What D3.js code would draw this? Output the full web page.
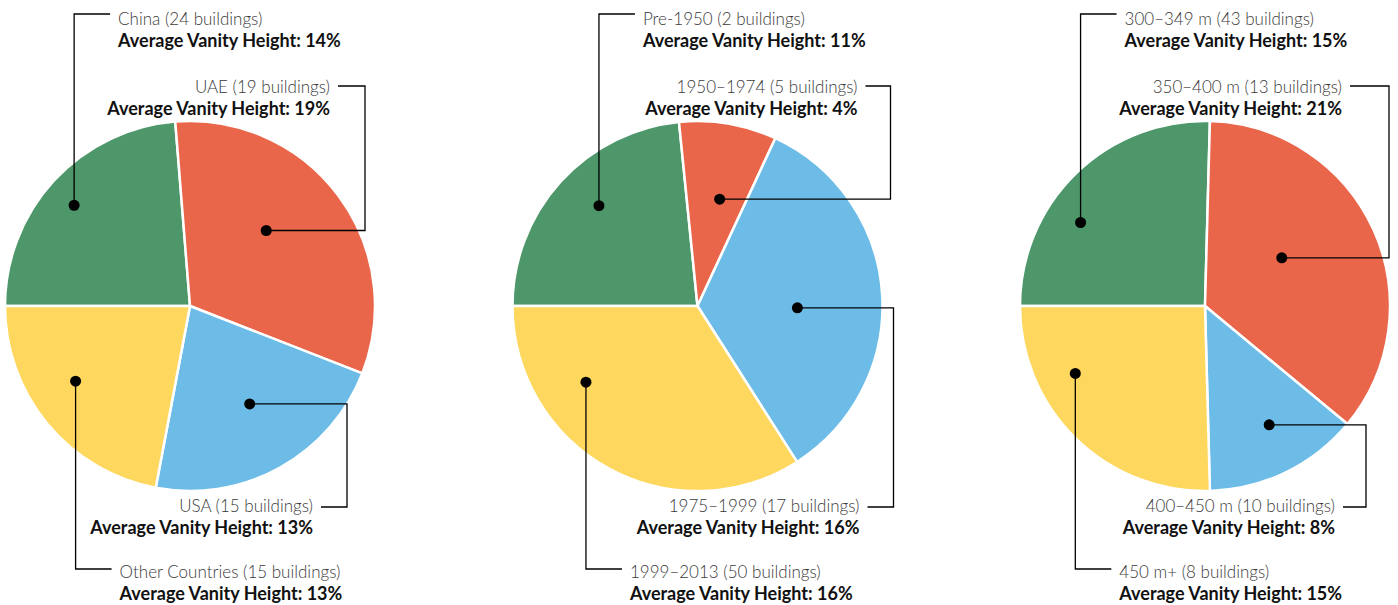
<!DOCTYPE html>
<html>
<head>
<meta charset="utf-8">
<script src="https://cdn.jsdelivr.net/npm/d3@7"></script>
<style>
  body { margin: 0; background: #fff; }
  svg { display: block; font-family: Lato, "Open Sans", sans-serif; }
</style>
</head>
<body>
<div id="chart"></div>
<script>
// data
const countryNames = ['China', 'UAE', 'USA', 'Other Countries'];
const countryBuildings = [24, 19, 15, 15];
const countryVanity = [14, 19, 13, 13];

const eraNames = ['Pre-1950', '1950–1974', '1975–1999', '1999–2013'];
const eraBuildings = [2, 5, 17, 50];
const eraVanity = [11, 4, 16, 16];

const heightNames = ['300–349 m', '350–400 m', '400–450 m', '450 m+'];
const heightBuildings = [43, 13, 10, 8];
const heightVanity = [15, 21, 8, 15];

const sliceColors = ['#4d976a', '#e9664b', '#6dbce8', '#fed75e'];

// annotation layout (dot: fraction along slice angle, fraction of radius)
const dotPos = [
  [[0.48, 0.83], [0.43, 0.58], [0.47, 0.62], [0.58, 0.74]],
  [[0.54, 0.76], [0.57, 0.59], [0.54, 0.54], [0.72, 0.73]],
  [[0.37, 0.81], [0.44, 0.49], [0.45, 0.73], [0.70, 0.79]]
];
// right-hand leaders: elbow x and text end, relative to pie centre
const elbowDx = [[null, 175, 157, null], [null, 193, 196, null], [null, 184, 161, null]];
const textEndDx = [[null, 140, 123, null], [null, 160, 162, null], [null, 137, 130, null]];
const rowLineY = [14, 86, 507, 569];
const rowTextY = [25, 93, 512, 578];

const charts = [
  { names: countryNames, buildings: countryBuildings, vanity: countryVanity },
  { names: eraNames, buildings: eraBuildings, vanity: eraVanity },
  { names: heightNames, buildings: heightBuildings, vanity: heightVanity }
];

const width = 1398, height = 605;
const radius = 185;
const cy = 306;

const svg = d3.select('#chart').append('svg')
  .attr('width', width)
  .attr('height', height);

const xScale = d3.scalePoint()
  .domain(d3.range(charts.length))
  .range([190, 1205]);

const pie = d3.pie()
  .sort(null)
  .startAngle(-Math.PI / 2)
  .endAngle(Math.PI * 1.5)
  .value(d => d);

const arc = d3.arc().innerRadius(0).outerRadius(radius);

charts.forEach((c, ci) => {
  const cx = xScale(ci);
  const g = svg.append('g').attr('transform', `translate(${cx},${cy})`);
  const arcs = pie(c.vanity);

  g.selectAll('path')
    .data(arcs)
    .enter()
    .append('path')
    .attr('d', arc)
    .attr('fill', (d, i) => sliceColors[i])
    .attr('stroke', '#fff')
    .attr('stroke-width', 2.5)
    .attr('stroke-linejoin', 'round');

  arcs.forEach((a, i) => {
    const [t, rf] = dotPos[ci][i];
    const ang = a.startAngle + (a.endAngle - a.startAngle) * t;
    const [dx, dy] = d3.pointRadial(ang, radius * rf);
    const px = cx + dx, py = cy + dy;
    const ly = rowLineY[i];
    const ty = rowTextY[i];
    let pts, tx, anchor;

    if (elbowDx[ci][i] == null) {
      pts = [[px, py], [px, ly], [px + 36, ly]];
      tx = px + 44;
      anchor = 'start';
    } else {
      const ex = cx + elbowDx[ci][i];
      tx = cx + textEndDx[ci][i];
      pts = [[px, py], [ex, py], [ex, ly], [tx + 8, ly]];
      anchor = 'end';
    }

    svg.append('path')
      .attr('d', d3.line()(pts))
      .attr('fill', 'none')
      .attr('stroke', '#000')
      .attr('stroke-width', 1.3);

    svg.append('circle')
      .attr('cx', px)
      .attr('cy', py)
      .attr('r', 5.5)
      .attr('fill', '#000');

    svg.append('text')
      .attr('x', tx)
      .attr('y', ty)
      .attr('text-anchor', anchor)
      .attr('fill', '#3a3a3a')
      .style('font-size', '17px')
      .style('font-weight', 300)
      .text(`${c.names[i]} (${c.buildings[i]} buildings)`);

    svg.append('text')
      .attr('x', tx)
      .attr('y', ty + 22)
      .attr('text-anchor', anchor)
      .attr('fill', '#111')
      .style('font-size', '18px')
      .style('font-weight', 700)
      .text(`Average Vanity Height: ${c.vanity[i]}%`);
  });
});
</script>
</body>
</html>
